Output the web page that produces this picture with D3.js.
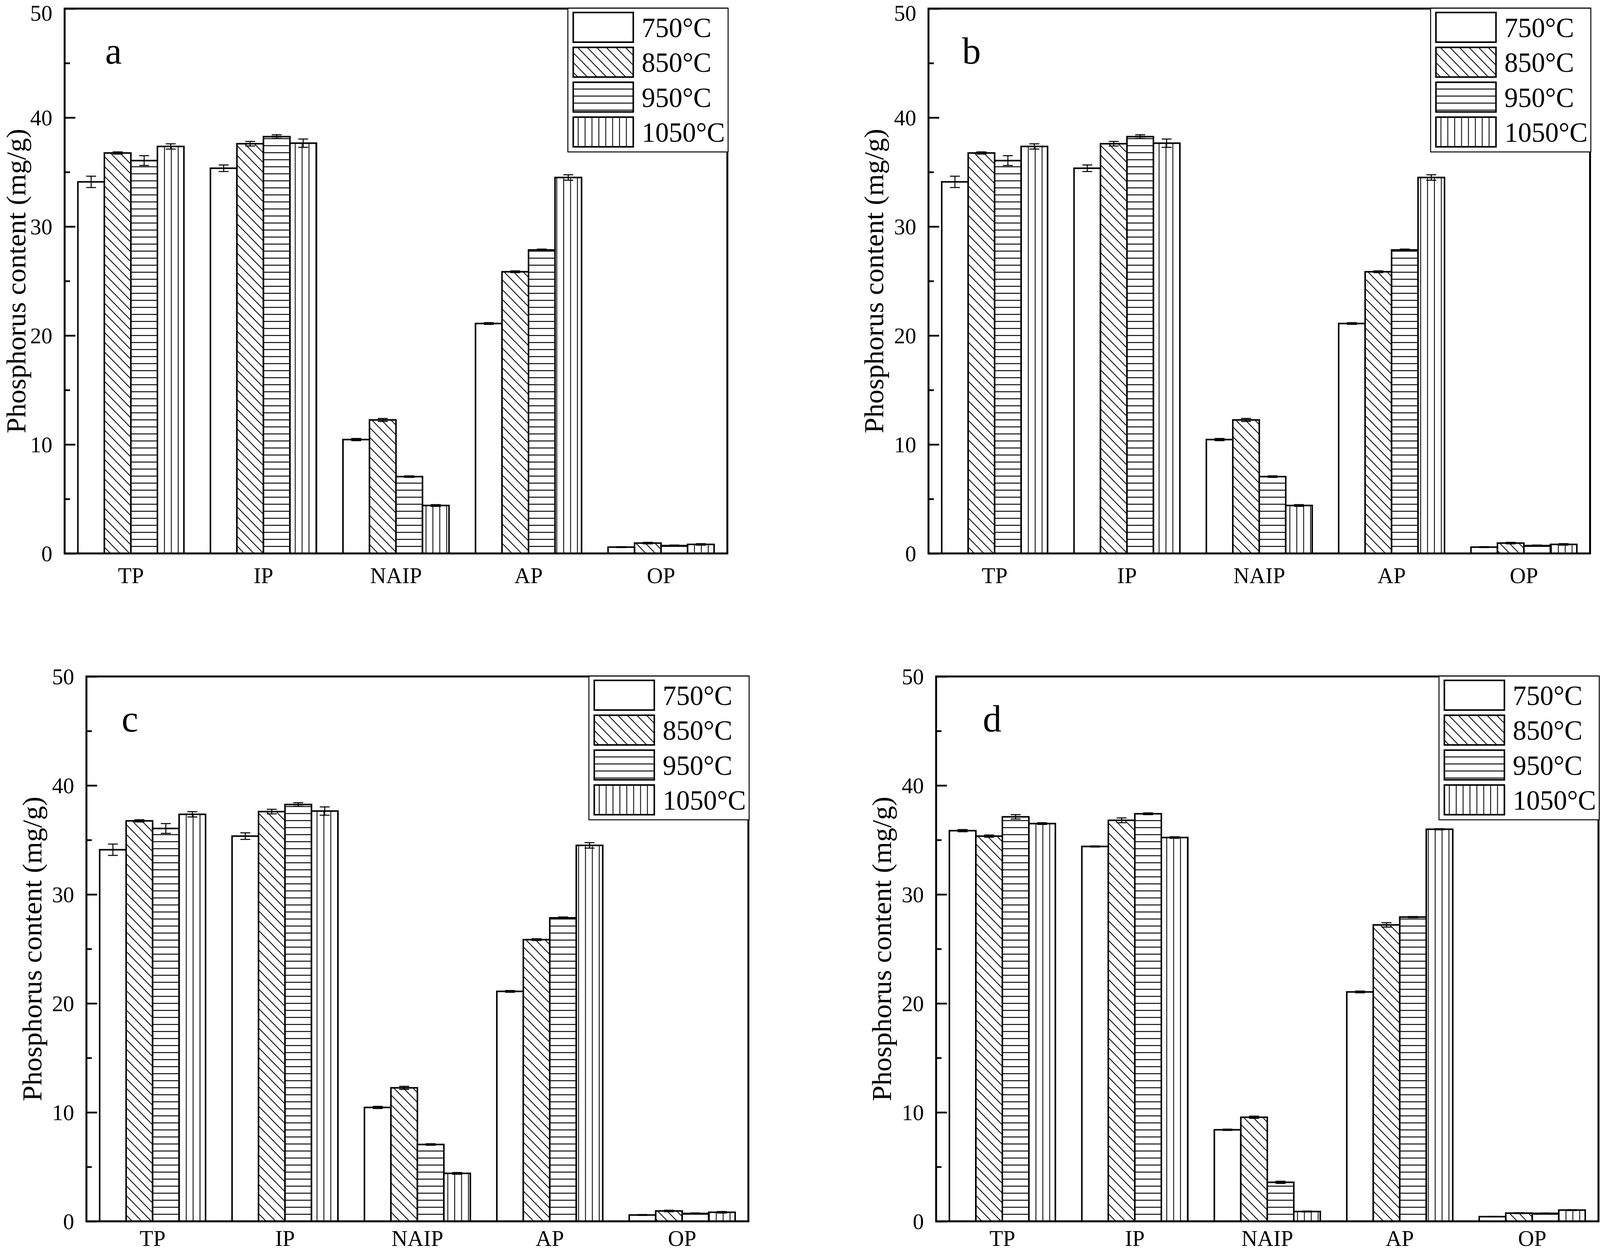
<!DOCTYPE html>
<html>
<head>
<meta charset="utf-8">
<script src="https://cdn.jsdelivr.net/npm/d3@7/dist/d3.min.js"></script>
<style>
html,body{margin:0;padding:0;background:#fff;overflow:hidden;}
#chart{display:block;width:100vw;height:100vh;}
svg text{font-family:"Liberation Serif","Times New Roman",serif;fill:#000;}
</style>
</head>
<body>
<svg id="chart" viewBox="0 0 4184 3203" preserveAspectRatio="none"></svg>
<script>
// ---- data ----
const categories = ["TP", "IP", "NAIP", "AP", "OP"];
const seriesNames = ["750°C", "850°C", "950°C", "1050°C"];
const yTicks = [0, 10, 20, 30, 40, 50];
const yMinorTicks = [5, 15, 25, 35, 45];
const panelLetters = ["a", "b", "c", "d"];

// panels a, b, c (identical data)
const abc750 = [34.1, 35.35, 10.45, 21.1, 0.58];
const abc850 = [36.75, 37.6, 12.25, 25.85, 0.95];
const abc950 = [36.05, 38.25, 7.05, 27.85, 0.72];
const abc1050 = [37.35, 37.65, 4.4, 34.5, 0.83];
const abc750Err = [0.52, 0.3, 0.1, 0.08, 0.04];
const abc850Err = [0.1, 0.21, 0.14, 0.08, 0.07];
const abc950Err = [0.45, 0.17, 0.07, 0.08, 0.05];
const abc1050Err = [0.24, 0.38, 0.08, 0.25, 0.07];

// panel d
const d750 = [35.85, 34.4, 8.4, 21.05, 0.43];
const d850 = [35.35, 36.8, 9.55, 27.2, 0.75];
const d950 = [37.12, 37.4, 3.58, 27.92, 0.73];
const d1050 = [36.5, 35.22, 0.9, 35.98, 1.03];
const d750Err = [0.1, 0.05, 0.06, 0.08, 0.03];
const d850Err = [0.1, 0.22, 0.1, 0.2, 0.04];
const d950Err = [0.2, 0.08, 0.1, 0.05, 0.03];
const d1050Err = [0.08, 0.07, 0.04, 0.05, 0.04];

const yLabel = "Phosphorus content (mg/g)";

// ---- layout ----
const W = 4184, H = 3203;
const tickFont = 58;
const panels = [
  {letter: panelLetters[0], left: 169, top: 22, width: 1733, height: 1395, letterDx: 106,
   values: [abc750, abc850, abc950, abc1050], errors: [abc750Err, abc850Err, abc950Err, abc1050Err]},
  {letter: panelLetters[1], left: 2428, top: 22, width: 1730, height: 1395, letterDx: 88,
   values: [abc750, abc850, abc950, abc1050], errors: [abc750Err, abc850Err, abc950Err, abc1050Err]},
  {letter: panelLetters[2], left: 226, top: 1732, width: 1731, height: 1395, letterDx: 92,
   values: [abc750, abc850, abc950, abc1050], errors: [abc750Err, abc850Err, abc950Err, abc1050Err]},
  {letter: panelLetters[3], left: 2448, top: 1732, width: 1732, height: 1395, letterDx: 122,
   values: [d750, d850, d950, d1050], errors: [d750Err, d850Err, d950Err, d1050Err]}
];

const svg = d3.select("#chart");
svg.append("rect").attr("width", W).attr("height", H).attr("fill", "#fff");

// ---- hatch patterns ----
const defs = svg.append("defs");
const patIds = ["p750", "p850", "p950", "p1050"];
defs.append("pattern").attr("id", "p750").attr("patternUnits", "userSpaceOnUse")
  .attr("width", 10).attr("height", 10)
  .append("rect").attr("width", 10).attr("height", 10).attr("fill", "#fff");
const pd = defs.append("pattern").attr("id", "p850").attr("patternUnits", "userSpaceOnUse")
  .attr("width", 25).attr("height", 25);
pd.append("rect").attr("width", 25).attr("height", 25).attr("fill", "#fff");
pd.append("path").attr("d", "M-2,-2 L27,27 M-6,19 L6,31 M19,-6 L31,6")
  .attr("stroke", "#000").attr("stroke-width", 2.2);
const ph = defs.append("pattern").attr("id", "p950").attr("patternUnits", "userSpaceOnUse")
  .attr("width", 18).attr("height", 18);
ph.append("rect").attr("width", 18).attr("height", 18).attr("fill", "#fff");
ph.append("line").attr("x1", 0).attr("x2", 18).attr("y1", 9).attr("y2", 9)
  .attr("stroke", "#000").attr("stroke-width", 2.4);
const pv = defs.append("pattern").attr("id", "p1050").attr("patternUnits", "userSpaceOnUse")
  .attr("width", 18).attr("height", 18);
pv.append("rect").attr("width", 18).attr("height", 18).attr("fill", "#fff");
pv.append("line").attr("y1", 0).attr("y2", 18).attr("x1", 9).attr("x2", 9)
  .attr("stroke", "#000").attr("stroke-width", 2.2);

// ---- draw panels ----
panels.forEach(p => {
  const g = svg.append("g").attr("transform", `translate(${p.left},${p.top})`);
  const x0 = d3.scaleBand().domain(categories).range([0, p.width]).paddingInner(0).paddingOuter(0);
  const x1 = d3.scaleBand().domain(seriesNames).range([0, x0.bandwidth() * 0.8]);
  const groupOffset = x0.bandwidth() * 0.1;
  const y = d3.scaleLinear().domain([0, 50]).range([p.height, 0]);

  // bars
  seriesNames.forEach((s, si) => {
    const vals = p.values[si];
    g.append("g").selectAll("rect").data(categories).join("rect")
      .attr("x", c => x0(c) + groupOffset + x1(s))
      .attr("y", (c, i) => y(vals[i]))
      .attr("width", x1.bandwidth())
      .attr("height", (c, i) => y(0) - y(vals[i]))
      .attr("fill", `url(#${patIds[si]})`)
      .attr("stroke", "#000").attr("stroke-width", 4);
  });

  // error bars
  seriesNames.forEach((s, si) => {
    const vals = p.values[si], errs = p.errors[si];
    const eg = g.append("g").attr("stroke", "#000").attr("stroke-width", 2.6);
    categories.forEach((c, i) => {
      const cx = x0(c) + groupOffset + x1(s) + x1.bandwidth() / 2;
      const yt = y(vals[i] + errs[i]), yb = y(vals[i] - errs[i]);
      eg.append("line").attr("x1", cx).attr("x2", cx).attr("y1", yt).attr("y2", yb);
      eg.append("line").attr("x1", cx - 13).attr("x2", cx + 13).attr("y1", yt).attr("y2", yt);
      eg.append("line").attr("x1", cx - 13).attr("x2", cx + 13).attr("y1", yb).attr("y2", yb);
    });
  });

  // y axis major
  const ya = g.append("g").call(d3.axisLeft(y).tickValues(yTicks).tickSize(-28).tickPadding(32).tickFormat(d3.format("d")));
  ya.select(".domain").remove();
  ya.selectAll(".tick line").attr("stroke-width", 4.5);
  ya.selectAll(".tick text").attr("font-size", tickFont).attr("font-family", "Liberation Serif")
    .attr("dy", d => {
      // keep the label box inside the canvas
      const absY = p.top + y(d);
      const need = 0.9 * tickFont - absY;
      return need > 0.34 * tickFont ? `${need}px` : "0.34em";
    });
  // y axis minor
  const ym = g.append("g").call(d3.axisLeft(y).tickValues(yMinorTicks).tickSize(-14).tickFormat(""));
  ym.select(".domain").remove();
  ym.selectAll(".tick line").attr("stroke-width", 4.5);

  // x axis labels (kept inside the canvas)
  const labelOffset = Math.min(76, H - 13 - (p.top + p.height));
  const xa = g.append("g").attr("transform", `translate(0,${p.height})`)
    .call(d3.axisBottom(x0).tickSize(0).tickPadding(0));
  xa.select(".domain").remove();
  xa.selectAll(".tick text").attr("font-size", 58).attr("font-family", "Liberation Serif")
    .attr("y", labelOffset).attr("dy", 0);

  // frame
  g.append("rect").attr("x", 0).attr("y", 0).attr("width", p.width).attr("height", p.height)
    .attr("fill", "none").attr("stroke", "#000").attr("stroke-width", 5);

  // y label
  const ylx = Math.max(-118, 66 - p.left);
  g.append("text")
    .attr("transform", `translate(${ylx},${p.height / 2}) rotate(-90)`)
    .attr("text-anchor", "middle").attr("font-size", 72).text(yLabel);

  // panel letter
  g.append("text").attr("x", p.letterDx).attr("y", 141).attr("font-size", 98).text(p.letter);

  // legend
  const lw = 419, lh = 368;
  const lg = g.append("g").attr("transform", `translate(${p.width + 2 - lw},${-1})`);
  lg.append("rect").attr("width", lw).attr("height", lh).attr("fill", "#fff")
    .attr("stroke", "#000").attr("stroke-width", 2.5);
  seriesNames.forEach((s, si) => {
    const ry = 11 + si * 89.3;
    lg.append("rect").attr("x", 14).attr("y", ry).attr("width", 157).attr("height", 76)
      .attr("fill", `url(#${patIds[si]})`).attr("stroke", "#000").attr("stroke-width", 4);
    lg.append("text").attr("x", 193).attr("y", ry + 63).attr("font-size", 71).text(s);
  });
});
</script>
</body>
</html>
